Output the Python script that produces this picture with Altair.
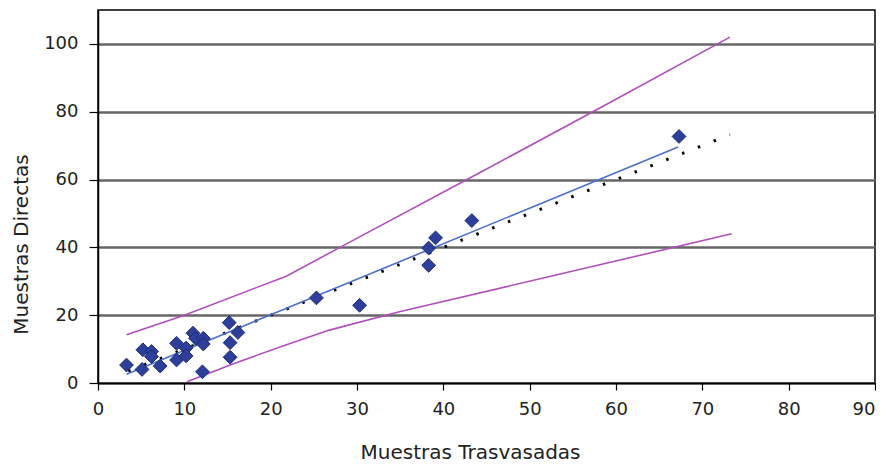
import altair as alt
import pandas as pd

# Scatter points (Muestras Trasvasadas vs Muestras Directas)
x_pts = [3.3, 5.2, 5.1, 6.2, 6.2, 7.2, 9.1, 9.1, 10.2, 10.2, 11.0, 11.3, 12.2, 12.2,
         12.1, 15.2, 16.2, 15.3, 15.3, 25.3, 30.3, 38.3, 38.3, 39.1, 43.3, 67.3]
y_pts = [5.3, 9.8, 4.0, 9.3, 7.8, 5.0, 11.7, 6.8, 10.3, 8.0, 14.7, 13.2, 13.2, 11.5,
         3.3, 17.8, 14.9, 11.9, 7.6, 25.1, 22.9, 34.7, 39.8, 42.8, 47.9, 72.7]

# Regression line
fit_x = [3.3, 67.2]
fit_y = [2.6, 69.6]

# Identity (dotted) line
ident_x = [3.5, 73.2]
ident_y = [3.5, 73.2]

# Upper and lower limits
up_x = [3.3, 10.0, 21.8, 28.4, 44.2, 57.7, 73.2]
up_y = [14.2, 20.0, 31.5, 40.5, 62.0, 80.5, 102.0]
lo_x = [10.3, 16.0, 21.5, 26.8, 34.9, 73.4]
lo_y = [0.4, 6.0, 11.0, 15.6, 21.0, 44.0]

FONT = "DejaVu Sans"

pts = pd.DataFrame({"x": x_pts, "y": y_pts})
fit = pd.DataFrame({"x": fit_x, "y": fit_y, "o": range(len(fit_x))})
ident = pd.DataFrame({"x": ident_x, "y": ident_y, "o": range(len(ident_x))})
lims = pd.concat([
    pd.DataFrame({"x": up_x, "y": up_y, "g": "up", "o": range(len(up_x))}),
    pd.DataFrame({"x": lo_x, "y": lo_y, "g": "lo", "o": range(len(lo_x))}),
])

xscale = alt.Scale(domain=[0, 90], nice=False, zero=False)
yscale = alt.Scale(domain=[0, 110], nice=False, zero=False)

xaxis = alt.Axis(
    values=list(range(0, 91, 10)), grid=False, title="Muestras Trasvasadas",
    domainColor="black", domainWidth=1.5, tickColor="black", tickWidth=1.2, tickSize=7,
    labelFont=FONT, labelFontSize=18, labelColor="#222222", labelPadding=10,
    labelFlush=False,
    labelAlign={"expr": "datum.value == 90 ? 'right' : 'center'"},
    titleFont=FONT, titleFontSize=20, titleFontWeight="normal", titleColor="#222222",
    titleX=372, titleY=69, titleAnchor="start", titleAlign="center", titleBaseline="middle",
)
yaxis = alt.Axis(
    values=list(range(0, 101, 20)), grid=True, gridColor="#666666", gridWidth=2.5,
    title="Muestras Directas",
    domainColor="black", domainWidth=1.5, tickColor="black", tickWidth=1.2, tickSize=9,
    labelFont=FONT, labelFontSize=18, labelColor="#222222", labelPadding=11,
    labelFlush=False,
    titleFont=FONT, titleFontSize=20, titleFontWeight="normal", titleColor="#222222",
    titleX=-77, titleY=234, titleAngle=-90, titleAnchor="start", titleAlign="center",
    titleBaseline="middle",
)

base_x = alt.X("x:Q", scale=xscale, axis=xaxis)
base_y = alt.Y("y:Q", scale=yscale, axis=yaxis)

limit_lines = alt.Chart(lims).mark_line(color="#B04FBB", strokeWidth=1.6).encode(
    x=base_x, y=base_y, detail="g:N", order="o:Q"
)
ident_line = alt.Chart(ident).mark_line(
    color="black", strokeWidth=3, strokeDash=[2.5, 14.5]
).encode(x=alt.X("x:Q", scale=xscale), y=alt.Y("y:Q", scale=yscale), order="o:Q")
fit_line = alt.Chart(fit).mark_line(color="#4A6FCC", strokeWidth=1.6).encode(
    x=alt.X("x:Q", scale=xscale), y=alt.Y("y:Q", scale=yscale), order="o:Q"
)
points = alt.Chart(pts).mark_point(
    shape="diamond", filled=True, size=190, fill="#2D3F9A", stroke="#1C2A72",
    strokeWidth=1, opacity=1
).encode(x=alt.X("x:Q", scale=xscale), y=alt.Y("y:Q", scale=yscale))

chart = alt.layer(limit_lines, ident_line, fit_line, points).properties(
    width=777, height=373,
    autosize="none",
    padding={"left": 90, "top": 2, "right": 1, "bottom": 81},
    background="white",
).configure_view(stroke="black", strokeWidth=1.5)

chart.save("out.html", embed_options={"renderer": "svg", "actions": False})
